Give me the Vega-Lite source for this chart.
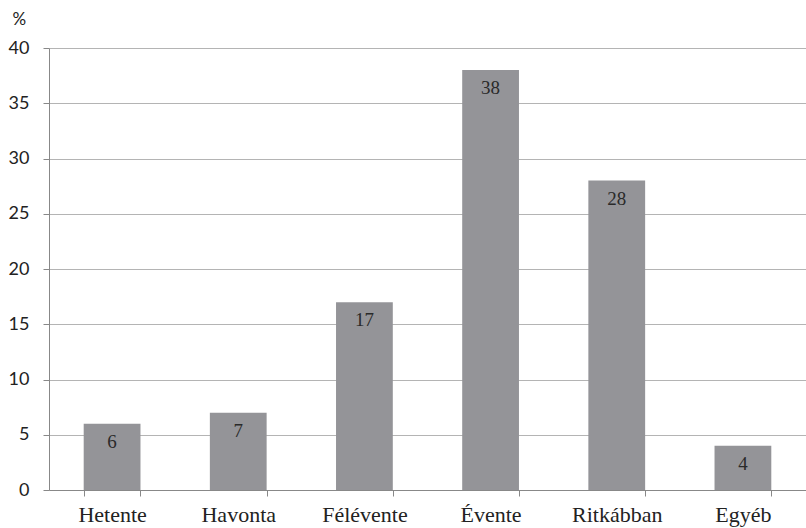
{
  "$schema": "https://vega.github.io/schema/vega-lite/v6.json",
  "width": 757,
  "height": 442,
  "autosize": {"type": "none"},
  "padding": {"left": 49, "top": 48, "right": 0, "bottom": 38},
  "background": "white",
  "config": {"view": {"stroke": null}},
  "data": {"values": [
    {"cat": "Hetente", "value": 6},
    {"cat": "Havonta", "value": 7},
    {"cat": "Félévente", "value": 17},
    {"cat": "Évente", "value": 38},
    {"cat": "Ritkábban", "value": 28},
    {"cat": "Egyéb", "value": 4}
  ]},
  "encoding": {
    "x": {
      "field": "cat", "type": "nominal", "sort": null,
      "scale": {"paddingInner": 0.55, "paddingOuter": 0.275},
      "axis": {
        "title": null, "labelAngle": 0, "labelFont": "Liberation Serif", "labelFontSize": 22,
        "labelColor": "#222", "labelPadding": 18, "labelBaseline": "middle", "tickBand": "extent", "ticks": true,
        "tickSize": 6, "tickColor": "#888", "domainColor": "#888", "grid": false
      }
    },
    "y": {
      "field": "value", "type": "quantitative",
      "scale": {"domain": [0, 40], "nice": false},
      "axis": {
        "values": [0, 5, 10, 15, 20, 25, 30, 35, 40],
        "title": "%", "titleAngle": 0, "titleX": -37, "titleY": -29, "titleAlign": "left",
        "titleBaseline": "middle", "titleFont": "Lato", "titleFontSize": 17, "titleFontWeight": "normal", "titleColor": "#222",
        "labelFont": "Lato", "labelFontSize": 18, "labelColor": "#222", "labelPadding": 14,
        "tickSize": 6, "tickColor": "#888", "domainColor": "#888",
        "grid": true, "gridColor": "#b4b4b4", "gridWidth": 1.2
      }
    }
  },
  "layer": [
    {"mark": {"type": "bar", "color": "#949498"}},
    {
      "mark": {"type": "text", "baseline": "top", "dy": 9, "font": "Liberation Serif", "fontSize": 19, "color": "#2a2a2a"},
      "encoding": {"text": {"field": "value", "type": "quantitative"}}
    }
  ]
}
